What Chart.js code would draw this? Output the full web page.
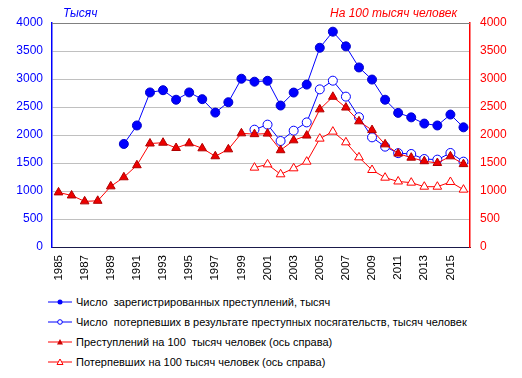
<!DOCTYPE html>
<html lang="ru">
<head>
    <meta charset="UTF-8">
    <title>Преступность</title>
    <script src="https://cdn.jsdelivr.net/npm/chart.js"></script>
    <style>
        * {
            margin: 0;
            padding: 0;
            box-sizing: border-box;
        }

        body {
            background: #fff;
            font-family: "Liberation Sans", Arial, sans-serif;
        }

        .chart-wrap {
            position: relative;
            width: 522px;
            height: 378px;
            overflow: hidden;
        }

        .chart-box {
            position: absolute;
            left: 0;
            top: 0;
            width: 522px;
            height: 290px;
        }

        .axis-title {
            position: absolute;
            top: 6px;
            font-size: 12px;
            font-style: italic;
            white-space: nowrap;
        }

        .legend {
            position: absolute;
            left: 48px;
            top: 292px;
            font-size: 11px;
            color: #000;
        }

        .legend-item {
            display: flex;
            align-items: center;
            height: 20px;
            white-space: nowrap;
        }

        .legend-item svg {
            margin-right: 4px;
        }
    </style>
</head>
<body>
    <div class="chart-wrap">
        <div class="chart-box">
            <canvas id="crime-chart"></canvas>
        </div>
        <div class="axis-title" style="left: 63px; color: #0000ff;">Тысяч</div>
        <div class="axis-title" style="left: 330px; color: #ff0000;">На 100 тысяч человек</div>

        <div class="legend">
            <div class="legend-item">
                <svg width="24" height="8"><line x1="0" y1="4" x2="24" y2="4" stroke="#0000ff" stroke-width="1"/><circle cx="12" cy="4" r="2.5" fill="#0000ff"/></svg>
                <span>Число&nbsp; зарегистрированных преступлений, тысяч</span>
            </div>
            <div class="legend-item">
                <svg width="24" height="8"><line x1="0" y1="4" x2="24" y2="4" stroke="#0000ff" stroke-width="1"/><circle cx="12" cy="4" r="2.3" fill="#fff" stroke="#0000ff" stroke-width="1"/></svg>
                <span>Число&nbsp; потерпевших в результате преступных посягательств, тысяч человек</span>
            </div>
            <div class="legend-item">
                <svg width="24" height="8"><line x1="0" y1="4" x2="24" y2="4" stroke="#ff0000" stroke-width="1"/><polygon points="12,1 15,6.5 9,6.5" fill="#cc0000"/></svg>
                <span>Преступлений на 100&nbsp; тысяч человек (ось справа)</span>
            </div>
            <div class="legend-item">
                <svg width="24" height="8"><line x1="0" y1="4" x2="24" y2="4" stroke="#ff0000" stroke-width="1"/><polygon points="12,1 15,6.5 9,6.5" fill="#fff" stroke="#ff0000" stroke-width="1"/></svg>
                <span>Потерпевших на 100 тысяч человек (ось справа)</span>
            </div>
        </div>
    </div>

    <script>
        // data
        const years = ['1985', '1986', '1987', '1988', '1989', '1990', '1991', '1992',
            '1993', '1994', '1995', '1996', '1997', '1998', '1999', '2000',
            '2001', '2002', '2003', '2004', '2005', '2006', '2007', '2008',
            '2009', '2010', '2011', '2012', '2013', '2014', '2015', '2016'];

        // thousand
        const registeredCrimes = [null, null, null, null, null, 1840, 2170, 2760,
            2800, 2630, 2760, 2640, 2400, 2585, 3005, 2952,
            2968, 2526, 2758, 2900, 3558, 3845, 3583, 3206,
            2990, 2630, 2395, 2315, 2204, 2170, 2365, 2137];

        // thousand people
        const victims = [null, null, null, null, null, null, null, null,
            null, null, null, null, null, null, null, 2095,
            2185, 1893, 2077, 2225, 2815, 2970, 2685, 2318,
            1958, 1792, 1676, 1661, 1571, 1560, 1679, 1524];

        // per 100k people, right axis
        const crimesPer100k = [975, 920, 815, 825, 1083, 1245, 1460, 1848,
            1862, 1768, 1851, 1762, 1620, 1744, 2030, 2015,
            2025, 1728, 1905, 1990, 2458, 2682, 2490, 2244,
            2088, 1833, 1668, 1595, 1532, 1500, 1619, 1480];

        const victimsPer100k = [null, null, null, null, null, null, null, null,
            null, null, null, null, null, null, null, 1417,
            1476, 1298, 1405, 1524, 1935, 2060, 1869, 1601,
            1375, 1238, 1170, 1149, 1077, 1077, 1161, 1024];

        const BLUE = '#0000ff';
        const RED = '#ff0000';
        const FONT = '"Liberation Sans", Arial, sans-serif';

        const ctx = document.getElementById('crime-chart').getContext('2d');

        // thin grey frame on top of the plot
        const topBorder = {
            id: 'topBorder',
            afterDraw(chart) {
                const a = chart.chartArea;
                const c = chart.ctx;
                c.save();
                c.strokeStyle = '#808080';
                c.lineWidth = 1;
                c.beginPath();
                c.moveTo(a.left, a.top + 0.5);
                c.lineTo(a.right, a.top + 0.5);
                c.stroke();
                c.restore();
            }
        };

        // plain numbers, no thousands separator
        const plainTick = value => String(value);

        new Chart(ctx, {
            type: 'line',
            data: {
                labels: years,
                datasets: [
                    {
                        label: 'Число  зарегистрированных преступлений, тысяч',
                        data: registeredCrimes,
                        yAxisID: 'y',
                        borderColor: BLUE,
                        backgroundColor: BLUE,
                        borderWidth: 1,
                        pointStyle: 'circle',
                        pointRadius: 4.5,
                        pointBorderWidth: 1,
                        pointBackgroundColor: BLUE,
                        pointBorderColor: '#0000cc',
                        order: 3
                    },
                    {
                        label: 'Число  потерпевших в результате преступных посягательств, тысяч человек',
                        data: victims,
                        yAxisID: 'y',
                        borderColor: BLUE,
                        backgroundColor: '#fff',
                        borderWidth: 1,
                        pointStyle: 'circle',
                        pointRadius: 4.5,
                        pointBorderWidth: 1,
                        pointBackgroundColor: '#fff',
                        pointBorderColor: BLUE,
                        order: 4
                    },
                    {
                        label: 'Преступлений на 100 тысяч человек (ось справа)',
                        data: crimesPer100k,
                        yAxisID: 'y1',
                        borderColor: RED,
                        backgroundColor: '#e00000',
                        borderWidth: 1,
                        pointStyle: 'triangle',
                        pointRadius: 5,
                        pointBorderWidth: 1,
                        pointBackgroundColor: '#ee0000',
                        pointBorderColor: '#b00000',
                        order: 1
                    },
                    {
                        label: 'Потерпевших на 100 тысяч человек (ось справа)',
                        data: victimsPer100k,
                        yAxisID: 'y1',
                        borderColor: RED,
                        backgroundColor: '#fff',
                        borderWidth: 1,
                        pointStyle: 'triangle',
                        pointRadius: 5,
                        pointBorderWidth: 1,
                        pointBackgroundColor: '#fff',
                        pointBorderColor: RED,
                        order: 2
                    }
                ]
            },
            options: {
                responsive: true,
                maintainAspectRatio: false,
                animation: false,
                spanGaps: false,
                layout: {
                    padding: { top: 23, left: 0, right: 0, bottom: 0 }
                },
                plugins: {
                    legend: { display: false },
                    tooltip: { enabled: false }
                },
                scales: {
                    x: {
                        offset: true,
                        grid: { display: false, drawTicks: false },
                        border: { display: true, color: '#1a1a4a', width: 1 },
                        ticks: {
                            autoSkip: false,
                            maxRotation: 90,
                            minRotation: 90,
                            padding: 8,
                            color: '#000',
                            font: { family: FONT, size: 11.5 },
                            callback: function (value, index) {
                                return index % 2 === 0 ? this.getLabelForValue(value) : '';
                            }
                        },
                        afterFit(scale) {
                            scale.height = 43;
                        }
                    },
                    y: {
                        position: 'left',
                        min: 0,
                        max: 4000,
                        grid: { color: '#c0c0c0', lineWidth: 1, drawTicks: false },
                        border: { display: true, color: BLUE, width: 1.5 },
                        ticks: {
                            stepSize: 500,
                            padding: 9,
                            color: BLUE,
                            font: { family: FONT, size: 12 },
                            callback: plainTick
                        },
                        afterFit(scale) {
                            scale.width = 52;
                        }
                    },
                    y1: {
                        position: 'right',
                        min: 0,
                        max: 4000,
                        grid: { display: false, drawTicks: false },
                        border: { display: true, color: RED, width: 1.5 },
                        ticks: {
                            stepSize: 500,
                            padding: 10,
                            color: RED,
                            font: { family: FONT, size: 12 },
                            callback: plainTick
                        },
                        afterFit(scale) {
                            scale.width = 52;
                        }
                    }
                }
            },
            plugins: [topBorder]
        });
    </script>
</body>
</html>
